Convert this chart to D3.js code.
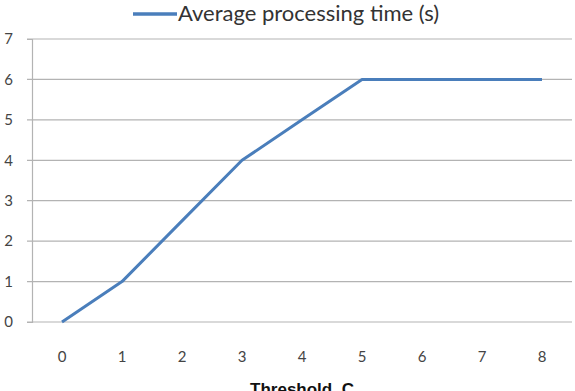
<!DOCTYPE html>
<html>
<head>
<meta charset="utf-8">
<script src="https://cdn.jsdelivr.net/npm/d3@7"></script>
<style>
  body { margin: 0; background: #fff; }
  svg { display: block; }
</style>
</head>
<body>
<div id="chart"></div>
<script>
// chart data
const thresholds = ["0", "1", "2", "3", "4", "5", "6", "7", "8"];
const avgTime = [0, 1, 2.5, 4, 5, 6, 6, 6, 6];
const yTicks = [0, 1, 2, 3, 4, 5, 6, 7];
const seriesName = "Average processing time (s)";
const xTitle = "Threshold_C";

const width = 575, height = 391;
const margin = {top: 39, bottom: 69, left: 32, right: 3};

const svg = d3.select("#chart")
  .append("svg")
  .attr("width", width)
  .attr("height", height);

const x = d3.scaleBand()
  .domain(thresholds)
  .range([margin.left, width - margin.right])
  .padding(0);

const y = d3.scaleLinear()
  .domain([0, 7])
  .range([height - margin.bottom, margin.top]);

// horizontal gridlines
svg.append("g")
  .selectAll("line")
  .data(yTicks)
  .enter()
  .append("line")
  .attr("x1", margin.left - 5)
  .attr("x2", width - margin.right)
  .attr("y1", d => y(d))
  .attr("y2", d => y(d))
  .attr("stroke", "#b3b3b3")
  .attr("stroke-width", 1.2);

// y axis
const yAxis = svg.append("g")
  .attr("transform", `translate(${margin.left},0)`)
  .call(d3.axisLeft(y).tickValues(yTicks).tickSize(5).tickPadding(14).tickFormat(d3.format("d")));
yAxis.select(".domain").attr("stroke", "#b3b3b3").attr("stroke-width", 1.2);
yAxis.selectAll(".tick line").remove();
yAxis.selectAll("text")
  .style("font-family", "Lato, 'Open Sans', sans-serif")
  .style("font-size", "15px")
  .attr("fill", "#444");

// x axis labels
const xAxis = svg.append("g")
  .attr("transform", `translate(0,${height - margin.bottom})`)
  .call(d3.axisBottom(x).tickSize(0).tickPadding(29));
xAxis.select(".domain").remove();
xAxis.selectAll("text")
  .style("font-family", "Lato, 'Open Sans', sans-serif")
  .style("font-size", "15px")
  .attr("fill", "#444");

// series line
const line = d3.line()
  .x((d, i) => x(thresholds[i]) + x.bandwidth() / 2)
  .y(d => y(d));

svg.append("path")
  .datum(avgTime)
  .attr("fill", "none")
  .attr("stroke", "#4a7ebb")
  .attr("stroke-width", 3)
  .attr("stroke-linejoin", "round")
  .attr("d", line);

// legend
const legend = svg.append("g").attr("transform", "translate(133,14)");
legend.append("line")
  .attr("x1", 0).attr("x2", 44)
  .attr("y1", 0).attr("y2", 0)
  .attr("stroke", "#4a7ebb")
  .attr("stroke-width", 3.5);
legend.append("text")
  .attr("x", 45)
  .attr("y", 7)
  .style("font-family", "Lato, 'Open Sans', sans-serif")
  .style("font-size", "22px")
  .attr("fill", "#333")
  .text(seriesName);

// x axis title
svg.append("text")
  .attr("x", 302)
  .attr("y", 395)
  .style("text-anchor", "middle")
  .style("font-family", "'Liberation Sans', Arial, sans-serif")
  .style("font-weight", "bold")
  .style("font-size", "17px")
  .attr("fill", "#111")
  .text(xTitle);
</script>
</body>
</html>
